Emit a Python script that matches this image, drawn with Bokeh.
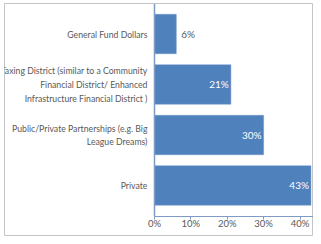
from bokeh.plotting import figure
from bokeh.models import Range1d, FixedTicker, PrintfTickFormatter, ColumnDataSource, LinearAxis
from bokeh.core.properties import value
from bokeh.embed import file_html
from bokeh.resources import INLINE

categories = [
    "Private",
    "Public/Private Partnerships (e.g. Big\nLeague Dreams)",
    "Taxing District (similar to a Community\nFinancial District/ Enhanced\nInfrastructure Financial District )",
    "General Fund Dollars",
]
values = [43, 30, 21, 6]
labels = ["43%", "30%", "21%", "6%"]
xticks = [0, 10, 20, 30, 40]

FONT = "Lato"
GRAY = "#595959"
BLUE = "#4f81bd"
AXIS = "#7e9bc4"

ypos = list(range(len(categories)))

# chart-area frame spans the whole picture (its outline is the chart border)
X0, X1 = -41.2, 43.7
Y0, Y1 = -1.01, 3.604
AXIS_Y = -0.62

p = figure(width=313, height=236, output_backend="svg", toolbar_location=None,
           x_axis_type=None, y_axis_type=None,
           x_range=Range1d(X0, X1), y_range=Range1d(Y0, Y1),
           min_border_left=4, min_border_right=0, min_border_top=3, min_border_bottom=0)
p.outline_line_color = "#c4c4c4"
p.outline_line_width = 1
p.grid.grid_line_color = None
p.background_fill_color = "white"
p.border_fill_color = "white"

src = ColumnDataSource(dict(y=ypos, v=values))
p.hbar(y="y", right="v", left=0, height=0.78, source=src,
       fill_color=BLUE, line_color="#6f97c9", line_width=0.5)

inside = [(y, v, l) for y, v, l in zip(ypos, values, labels) if v > 10]
outside = [(y, v, l) for y, v, l in zip(ypos, values, labels) if v <= 10]
p.text(x=[v for _, v, _ in inside], y=[y for y, _, _ in inside], text=[l for _, _, l in inside],
       x_offset=-2, text_align="right", text_baseline="middle",
       text_font=value(FONT), text_font_size="10px", text_color="white")
p.text(x=[v for _, v, _ in outside], y=[y for y, _, _ in outside], text=[l for _, _, l in outside],
       x_offset=5, text_align="left", text_baseline="middle",
       text_font=value(FONT), text_font_size="10px", text_color=GRAY)

xa = LinearAxis(fixed_location=AXIS_Y, bounds=(0, X1))
xa.ticker = FixedTicker(ticks=xticks)
xa.formatter = PrintfTickFormatter(format="%d%%")
xa.major_tick_line_color = AXIS
xa.major_tick_out = 3
xa.major_tick_in = 0
xa.minor_tick_line_color = None
xa.axis_line_color = AXIS
xa.major_label_text_font = FONT
xa.major_label_text_font_size = "9.5px"
xa.major_label_text_color = GRAY
xa.major_label_standoff = -2
p.add_layout(xa, "below")

ya = LinearAxis(fixed_location=0, bounds=(AXIS_Y, Y1))
ya.ticker = FixedTicker(ticks=ypos)
ya.major_label_overrides = {i: c for i, c in zip(ypos, categories)}
ya.major_tick_line_color = None
ya.major_tick_out = 0
ya.major_tick_in = 0
ya.minor_tick_line_color = None
ya.axis_line_color = AXIS
ya.axis_line_width = 1.5
ya.major_label_text_font = FONT
ya.major_label_text_font_size = "8.7px"
ya.major_label_text_color = GRAY
ya.major_label_text_line_height = 1.27
ya.major_label_standoff = 7
p.add_layout(ya, "left")

open("out.html", "w").write(file_html(p, INLINE))
